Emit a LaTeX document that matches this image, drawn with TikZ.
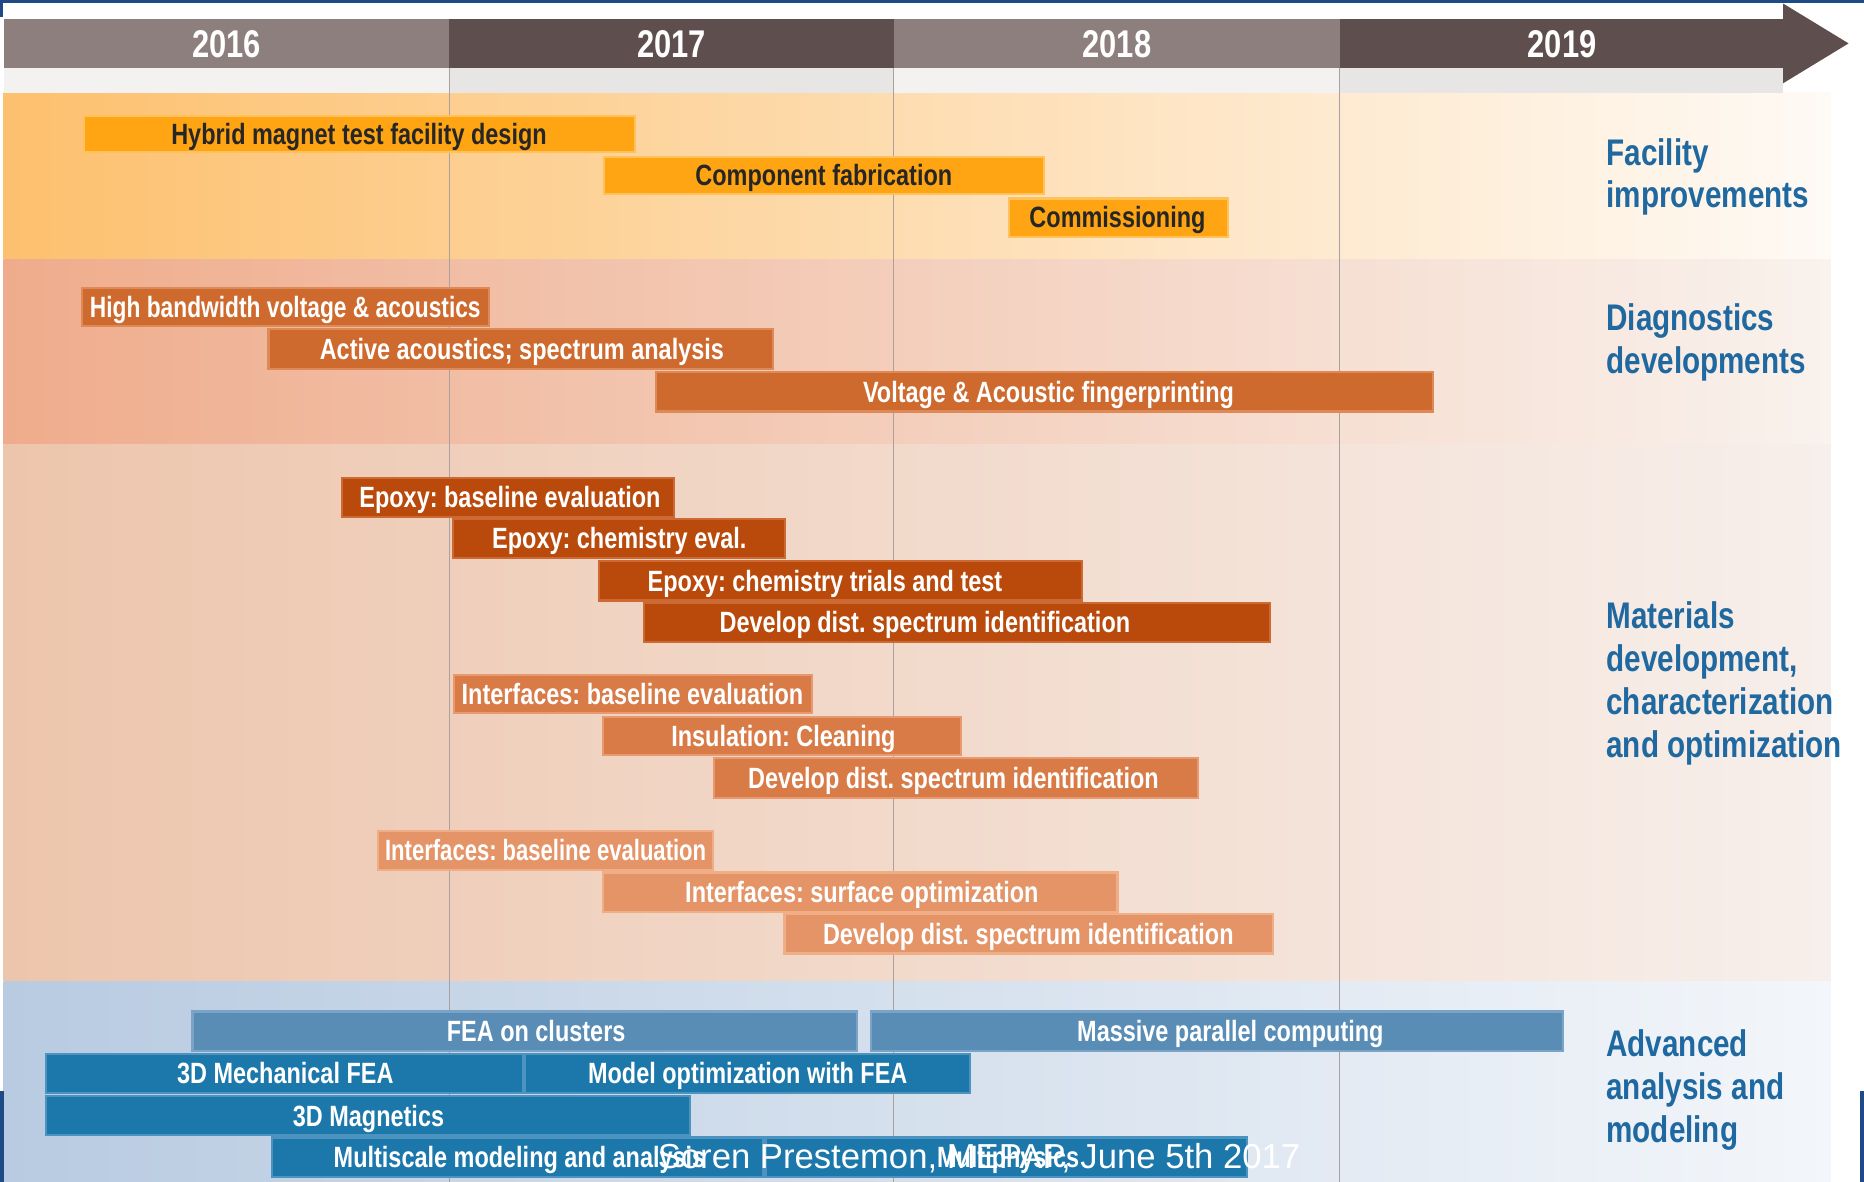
\documentclass[tikz,border=0pt]{standalone}
\usepackage{graphicx}
\usepackage{fontspec}
\newfontfamily\cond[FakeStretch=0.8]{Liberation Sans}
\newfontfamily\plainsans{Liberation Sans}
\definecolor{hdrL}{HTML}{8D7F7E}
\definecolor{hdrD}{HTML}{5E4E4D}
\definecolor{bandL}{HTML}{F3F2F1}
\definecolor{bandD}{HTML}{E8E6E5}
\definecolor{gridc}{HTML}{A8A19F}
\definecolor{facF}{HTML}{FFA412}
\definecolor{facB}{HTML}{FFC25A}
\definecolor{diaF}{HTML}{CF6A2E}
\definecolor{diaB}{HTML}{DE8A58}
\definecolor{epoF}{HTML}{BA4A0B}
\definecolor{epoB}{HTML}{CD6A33}
\definecolor{intF}{HTML}{D97B47}
\definecolor{intB}{HTML}{E8996F}
\definecolor{srfF}{HTML}{E49467}
\definecolor{srfB}{HTML}{F0AE87}
\definecolor{bluL}{HTML}{5A8DB6}
\definecolor{bluLB}{HTML}{7BA3C6}
\definecolor{bluD}{HTML}{1C78AB}
\definecolor{bluDB}{HTML}{4C93C0}
\definecolor{labc}{HTML}{1F68A0}
\definecolor{factxt}{HTML}{262626}
\definecolor{slide}{HTML}{1E4B85}
\tikzset{
  barbase/.style={rectangle, inner sep=0pt, line width=1.1pt},
  facbar/.style={barbase, fill=facF, draw=facB},
  diabar/.style={barbase, fill=diaF, draw=diaB},
  epobar/.style={barbase, fill=epoF, draw=epoB},
  intbar/.style={barbase, fill=intF, draw=intB},
  srfbar/.style={barbase, fill=srfF, draw=srfB},
  blLbar/.style={barbase, fill=bluL, draw=bluLB},
  blDbar/.style={barbase, fill=bluD, draw=bluDB},
  bartext/.style={inner sep=0pt, text height=10.5pt, text depth=0pt, font=\cond\bfseries\frenchspacing\fontsize{14.8}{17}\selectfont},
  yearbox/.style={rectangle, inner sep=0pt, text=white, text height=14pt, text depth=0pt, font=\cond\bfseries\fontsize{19.5}{23}\selectfont},
  grouplab/.style={inner sep=0pt, anchor=north west, align=left, text=labc, font=\cond\bfseries\fontsize{18.7}{21.6}\selectfont},
  gridline/.style={draw=gridc, line width=0.5pt}
}
% name, style, x1, y1, x2, y2, text x, text colour, text
\newcommand\gbar[9]{%
  \node[#2, minimum width={(#5-#3)*0.6pt-1.1pt}, minimum height={(#6-#4)*0.6pt-1.1pt}] (#1) at ({(#3+#5)/2},{(#4+#6)/2}) {};
  \node[bartext, text=#8] (#1-t) at (#7,{(#4+#6)/2}) {#9};}
\begin{document}
\begin{tikzpicture}[x=0.6pt, y=-0.6pt]
\useasboundingbox (0,0) rectangle (1568,994);
\fill[white] (0,0) rectangle (1568,994);
% section backgrounds
\shade[left color={rgb,255:red,253;green,192;blue,110}, middle color={rgb,255:red,253;green,226;blue,189}, right color={rgb,255:red,254;green,250;blue,245}] (3,78) rectangle (1540,218);
\shade[left color={rgb,255:red,239;green,172;blue,140}, middle color={rgb,255:red,245;green,214;blue,198}, right color={rgb,255:red,249;green,242;blue,237}] (3,218) rectangle (1540,374);
\shade[left color={rgb,255:red,237;green,197;blue,172}, middle color={rgb,255:red,242;green,220;blue,207}, right color={rgb,255:red,247;green,239;blue,235}] (3,374) rectangle (1540,826);
\shade[left color={rgb,255:red,184;green,203;blue,225}, middle color={rgb,255:red,212;green,222;blue,235}, right color={rgb,255:red,243;green,246;blue,250}] (3,826) rectangle (1540,994);
% light band under header
\fill[bandL] (3,57) rectangle (378,78);
\fill[bandD] (378,57) rectangle (752,78);
\fill[bandL] (752,57) rectangle (1127,78);
\fill[bandD] (1127,57) rectangle (1500,78);
% grid lines
\draw[gridline] (378,57) -- (378,994);
\draw[gridline] (752,57) -- (752,994);
\draw[gridline] (1127,57) -- (1127,994);
% header years
\node[yearbox, fill=hdrL, minimum width={375*0.6pt}, minimum height={41*0.6pt}] (y2016) at (190.5,36.5) {2016};
\node[yearbox, fill=hdrD, minimum width={374*0.6pt}, minimum height={41*0.6pt}] (y2017) at (565,36.5) {2017};
\node[yearbox, fill=hdrL, minimum width={375*0.6pt}, minimum height={41*0.6pt}] (y2018) at (939.5,36.5) {2018};
\fill[hdrD] (1127,16) rectangle (1500.5,57);
\fill[hdrD] (1500,3) -- (1555,36.5) -- (1500,70) -- cycle;
\node[yearbox] (y2019) at (1314,36.5) {2019};
% facility
\gbar{fac1}{facbar}{70}{97}{535}{129}{302}{factxt}{Hybrid magnet test facility design}
\gbar{fac2}{facbar}{507}{131}{879}{164}{693}{factxt}{Component fabrication}
\gbar{fac3}{facbar}{848}{166}{1034}{200}{940}{factxt}{Commissioning}
% diagnostics
\gbar{dia1}{diabar}{68}{241}{412}{275}{240}{white}{\scalebox{0.97}[1]{High bandwidth voltage \& acoustics}}
\gbar{dia2}{diabar}{225}{276}{651}{311}{439}{white}{Active acoustics; spectrum analysis}
\gbar{dia3}{diabar}{551}{312}{1206}{347}{882}{white}{Voltage \& Acoustic fingerprinting}
% materials
\gbar{epo1}{epobar}{287}{401}{568}{436}{429}{white}{Epoxy: baseline evaluation}
\gbar{epo2}{epobar}{380}{436}{661}{470}{521}{white}{Epoxy: chemistry eval.}
\gbar{epo3}{epobar}{503}{471}{911}{506}{694}{white}{Epoxy: chemistry trials and test}
\gbar{epo4}{epobar}{541}{506}{1069}{541}{778}{white}{Develop dist. spectrum identification}
\gbar{int1}{intbar}{381}{567}{684}{601}{532}{white}{Interfaces: baseline evaluation}
\gbar{int2}{intbar}{506}{602}{809}{636}{659}{white}{Insulation: Cleaning}
\gbar{int3}{intbar}{600}{637}{1009}{672}{802}{white}{Develop dist. spectrum identification}
\gbar{srf1}{srfbar}{317}{698}{601}{733}{459}{white}{\scalebox{0.94}[1]{Interfaces: baseline evaluation}}
\gbar{srf2}{srfbar}{506}{733}{941}{768}{725}{white}{Interfaces: surface optimization}
\gbar{srf3}{srfbar}{659}{768}{1072}{803}{865}{white}{Develop dist. spectrum identification}
% advanced
\gbar{adv1}{blLbar}{161}{850}{722}{885}{451}{white}{FEA on clusters}
\gbar{adv2}{blLbar}{732}{850}{1316}{885}{1035}{white}{Massive parallel computing}
\gbar{adv3}{blDbar}{38}{886}{441}{920}{240}{white}{3D Mechanical FEA}
\gbar{adv4}{blDbar}{441}{886}{817}{920}{629}{white}{Model optimization with FEA}
\gbar{adv5}{blDbar}{38}{921}{581}{956}{310}{white}{3D Magnetics}
\gbar{adv6}{blDbar}{228}{956}{643}{991}{437}{white}{Multiscale modeling and analysis}
\gbar{adv7}{blDbar}{643}{956}{1050}{991}{848}{white}{Multiphysics}
% group labels
\node[grouplab] (labfac) at (1351,116) {Facility\\improvements};
\node[grouplab] (labdia) at (1351,255) {Diagnostics\\developments};
\node[grouplab] (labmat) at (1351,506) {Materials\\development,\\characterization\\and optimization};
\node[grouplab] (labadv) at (1351,866) {Advanced\\analysis and\\modeling};
% slide frame remnants
\fill[slide] (0,0) rectangle (1568,2.5);
\fill[slide] (0,0) rectangle (2.5,14);
\fill[slide] (0,918) rectangle (3,994);
\fill[slide] (1564.5,918) rectangle (1568,994);
% footer
\node[anchor=base west, inner sep=0pt, text=white, font=\plainsans\fontsize{17.5}{20}\selectfont] (footer) at (553,983) {Soren Prestemon, MEPAP, June 5th 2017};
\end{tikzpicture}
\end{document}
